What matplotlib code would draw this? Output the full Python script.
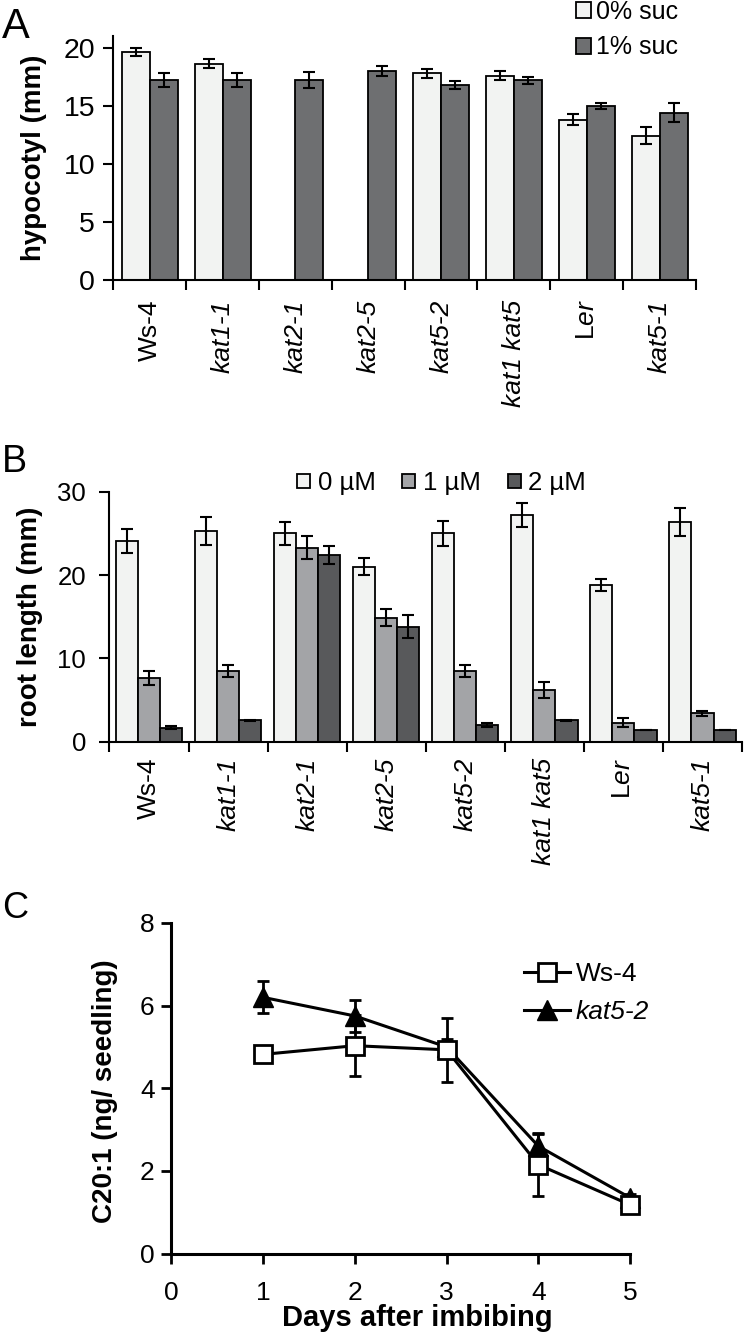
import numpy as np
import matplotlib
matplotlib.use("Agg")
import matplotlib.pyplot as plt
from matplotlib.patches import Patch
from matplotlib.lines import Line2D

plt.rcParams['font.family'] = ['Liberation Sans', 'DejaVu Sans']
plt.rcParams['mathtext.fontset'] = 'custom'
plt.rcParams['mathtext.rm'] = 'Liberation Sans'
plt.rcParams['mathtext.it'] = 'Liberation Sans:italic'

# genotypes (panels A and B)
genotypes = ["Ws-4", "kat1-1", "kat2-1", "kat2-5", "kat5-2", "kat1 kat5", r"L$\mathit{er}$", "kat5-1"]
italic = [False, True, True, True, True, True, False, True]

# panel A: hypocotyl length (mm)
suc0 = [19.6, 18.6, np.nan, np.nan, 17.8, 17.6, 13.8, 12.4]
suc0_err = [0.33, 0.38, np.nan, np.nan, 0.39, 0.39, 0.49, 0.73]
suc1 = [17.2, 17.2, 17.2, 18.0, 16.8, 17.2, 15.0, 14.4]
suc1_err = [0.63, 0.63, 0.7, 0.4, 0.33, 0.29, 0.24, 0.82]

# panel B: root length (mm)
um0 = [24.1, 25.3, 25.0, 21.0, 25.0, 27.2, 18.8, 26.4]
um0_err = [1.4, 1.65, 1.4, 1.0, 1.5, 1.4, 0.7, 1.7]
um1 = [7.6, 8.5, 23.3, 14.9, 8.5, 6.2, 2.3, 3.4]
um1_err = [0.85, 0.7, 1.4, 1.0, 0.75, 1.0, 0.5, 0.3]
um2 = [1.7, 2.55, 22.4, 13.8, 2.0, 2.55, 1.4, 1.4]
um2_err = [0.2, 0.05, 1.1, 1.4, 0.2, 0.1, 0.0, 0.05]

# panel C: C20:1 content (ng/seedling)
days = [1, 2, 3, 4, 5]
ws4 = [4.82, 5.03, 4.93, 2.15, 1.18]
ws4_err = [0.14, 0.74, 0.77, 0.76, 0.1]
kat52 = [6.2, 5.75, 5.0, 2.6, 1.35]
kat52_err = [0.39, 0.39, 0.2, 0.3, 0.08]

W, H = 746, 1339
fig = plt.figure(figsize=(W / 100, H / 100), dpi=100)


def px_axes(left, top, right, bottom):
    return fig.add_axes([left / W, 1 - bottom / H, (right - left) / W, (bottom - top) / H])


def fy(y):
    # pixel row (from top) -> figure fraction
    return 1 - y / H


def style_bar_axes(ax, ylabel, xpad, ysize, ypad):
    n = len(genotypes)
    ax.set_xlim(0, n)
    for s in ['top', 'right']:
        ax.spines[s].set_visible(False)
    for s in ['left', 'bottom']:
        ax.spines[s].set_linewidth(1.5)
    ax.set_xticks(np.arange(n + 1))
    ax.set_xticklabels([])
    ax.set_xticks(np.arange(n) + 0.5, minor=True)
    ax.set_xticklabels(genotypes, minor=True, rotation=90, fontsize=19, va='top', ha='center')
    for lbl, it in zip(ax.get_xticklabels(minor=True), italic):
        if it:
            lbl.set_fontstyle('italic')
    ax.tick_params(axis='x', which='major', direction='out', length=7, width=1.5)
    ax.tick_params(axis='x', which='minor', length=0, pad=xpad)
    ax.tick_params(axis='y', direction='out', length=7, width=1.5, labelsize=ysize, pad=ypad)
    ax.set_ylabel(ylabel, fontsize=20, fontweight='bold')


bar_kw = dict(edgecolor='black', linewidth=1.3, zorder=2)
err_kw = dict(fmt='none', ecolor='black', elinewidth=1.5, capsize=4.5, capthick=1.5, zorder=3)
leg_kw = dict(frameon=False, borderpad=0, borderaxespad=0)

# ---------------- Panel A ----------------
axA = px_axes(113.3, 36, 696, 280)
x = np.arange(len(genotypes)) + 0.5
wA = 0.385
s0 = np.array(suc0)
m = ~np.isnan(s0)
axA.bar(x[m] - wA / 2, s0[m], wA, color='#f2f3f2', **bar_kw)
axA.errorbar(x[m] - wA / 2, s0[m], yerr=np.array(suc0_err)[m], **err_kw)
axA.bar(x + wA / 2, suc1, wA, color='#6e6f71', **bar_kw)
axA.errorbar(x + wA / 2, suc1, yerr=suc1_err, **err_kw)
axA.set_ylim(0, 21)
axA.set_yticks([0, 5, 10, 15, 20])
style_bar_axes(axA, "hypocotyl (mm)", 14, 20.5, 6)
axA.yaxis.set_label_coords((47 - 113.3) / 582.7, 0.5)
hA = [Patch(facecolor='#f2f3f2', edgecolor='black', linewidth=1.3),
      Patch(facecolor='#6e6f71', edgecolor='black', linewidth=1.3)]
fig.legend(hA, ["0% suc", "1% suc"], loc='upper left', bbox_to_anchor=(576 / W, fy(0)),
           fontsize=18, handlelength=0.6, handleheight=0.6, handletextpad=0.2,
           labelspacing=0.46, **leg_kw)
fig.text(2 / W, fy(38), "A", fontsize=30, va='baseline', ha='left')

# ---------------- Panel B ----------------
axB = px_axes(109.5, 491.7, 742, 741.7)
wB = 0.28
axB.bar(x - wB, um0, wB, color='#f2f3f2', **bar_kw)
axB.errorbar(x - wB, um0, yerr=um0_err, **err_kw)
axB.bar(x, um1, wB, color='#a3a4a7', **bar_kw)
axB.errorbar(x, um1, yerr=um1_err, **err_kw)
axB.bar(x + wB, um2, wB, color='#58595b', **bar_kw)
axB.errorbar(x + wB, um2, yerr=um2_err, **err_kw)
axB.set_ylim(0, 30)
axB.set_yticks([0, 10, 20, 30])
style_bar_axes(axB, "root length (mm)", 11.5, 18.5, 10)
axB.yaxis.set_label_coords((43 - 109.5) / 632.5, 0.5)
hB = [Patch(facecolor='#f2f3f2', edgecolor='black', linewidth=1.3),
      Patch(facecolor='#a3a4a7', edgecolor='black', linewidth=1.3),
      Patch(facecolor='#58595b', edgecolor='black', linewidth=1.3)]
fig.legend(hB, ["0 µM", "1 µM", "2 µM"], loc='center left', bbox_to_anchor=(297 / W, fy(483)),
           ncol=3, fontsize=18.5, handlelength=0.5, handleheight=0.5,
           handletextpad=0.3, columnspacing=1.05, **leg_kw)
fig.text(2 / W, fy(472), "B", fontsize=27, va='baseline', ha='left')

# ---------------- Panel C ----------------
axC = px_axes(171.4, 923, 630, 1253.5)
e1 = axC.errorbar(days, ws4, yerr=ws4_err, color='black', lw=2.2, marker='s', ms=13,
                  mfc='white', mec='black', mew=2, ecolor='black', elinewidth=2, capsize=4.5,
                  capthick=2, zorder=3)
e2 = axC.errorbar(days, kat52, yerr=kat52_err, color='black', lw=2.2, marker='^', ms=14,
                  mfc='black', mec='black', ecolor='black', elinewidth=2, capsize=4.5,
                  capthick=2, zorder=2)
for cont in (e1, e2):
    for art in cont.get_children():
        art.set_clip_on(False)
axC.set_xlim(0, 5)
axC.set_ylim(0, 8)
axC.set_xticks([0, 1, 2, 3, 4, 5])
axC.set_yticks([0, 2, 4, 6, 8])
for s in ['top', 'right']:
    axC.spines[s].set_visible(False)
for s in ['left', 'bottom']:
    axC.spines[s].set_linewidth(2.2)
axC.tick_params(axis='both', direction='out', length=7, width=2, labelsize=19)
axC.tick_params(axis='x', pad=13)
axC.tick_params(axis='y', pad=5)
axC.set_xlabel("Days after imbibing", fontsize=21, fontweight='bold')
axC.xaxis.set_label_coords((417.5 - 171.4) / 458.6, (1253.5 - 1304) / 330.5)
axC.set_ylabel("C20:1 (ng/ seedling)", fontsize=20, fontweight='bold')
axC.yaxis.set_label_coords((118 - 171.4) / 458.6, 0.49)
hC = [Line2D([], [], color='black', lw=2.2, marker='s', ms=13, mfc='white', mec='black', mew=2),
      Line2D([], [], color='black', lw=2.2, marker='^', ms=14, mfc='black', mec='black')]
leg = axC.legend(hC, ["Ws-4", "kat5-2"], loc='upper left', bbox_to_anchor=(524 / W, fy(962)),
                 bbox_transform=fig.transFigure, fontsize=19, handlelength=1.75,
                 handletextpad=0.2, labelspacing=0.53, **leg_kw)
leg.get_texts()[1].set_fontstyle('italic')
fig.text(2 / W, fy(918), "C", fontsize=26, va='baseline', ha='left')

fig.savefig("out.png", dpi=100)
